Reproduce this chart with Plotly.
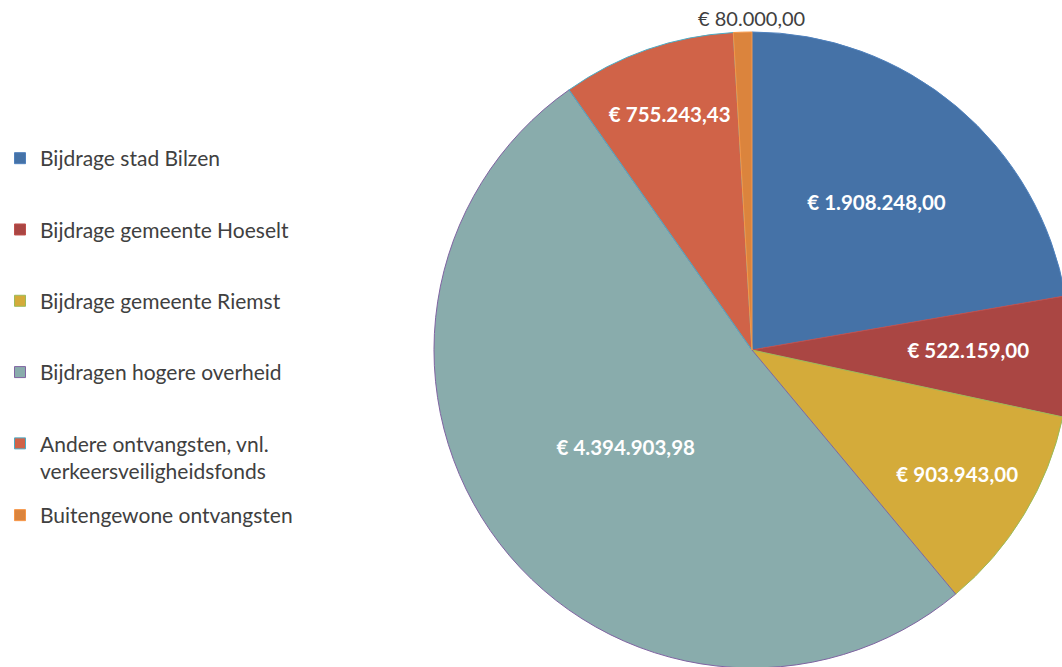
import plotly.graph_objects as go

labels = [
    "Bijdrage stad Bilzen",
    "Bijdrage gemeente Hoeselt",
    "Bijdrage gemeente Riemst",
    "Bijdragen hogere overheid",
    "Andere ontvangsten, vnl.<br>verkeersveiligheidsfonds",
    "Buitengewone ontvangsten",
]
values = [1908248.00, 522159.00, 903943.00, 4394903.98, 755243.43, 80000.00]
label_positions = ["inside", "inside", "inside", "inside", "inside", "none"]
fill_colors = ["#4572A7", "#AA4643", "#D4AB3A", "#89ACAC", "#D06348", "#DB843D"]
line_colors = ["#4F81BD", "#C0504D", "#9BBB59", "#8064A2", "#4BACC6", "#F79646"]


def euro(v):
    s = f"{v:,.2f}".replace(",", "X").replace(".", ",").replace("X", ".")
    return "€ " + s


value_text = [euro(v) for v in values]

FONT = "Lato"
TEXT_GREY = "#404040"
# the original chart's pie runs slightly past the right/bottom edge of the view,
# so the figure is a touch larger than the window and the overflow is hidden
W, H = 1075, 672
PIE_X = [0.4037, 0.9953]
PIE_Y = [0.006, 0.9524]

fig = go.Figure()

fig.add_trace(go.Pie(
    labels=labels,
    values=values,
    text=value_text,
    textinfo="text",
    textposition=label_positions,
    insidetextorientation="horizontal",
    insidetextfont=dict(family=FONT, size=20.5, color="white", weight="bold"),
    marker=dict(colors=fill_colors, line=dict(color=line_colors, width=1)),
    sort=False,
    direction="clockwise",
    rotation=0,
    showlegend=False,
    hoverinfo="skip",
    domain=dict(x=PIE_X, y=PIE_Y),
))

# small top slice: its label sits just above the pie, as in the original
fig.add_annotation(
    x=sum(PIE_X) / 2, y=PIE_Y[1], xref="paper", yref="paper",
    xanchor="center", yanchor="bottom", showarrow=False,
    text=value_text[-1], font=dict(family=FONT, size=20, color=TEXT_GREY),
)

# legend entries (one group per slice so spacing matches the original)
for i, (lab, fc, lc) in enumerate(zip(labels, fill_colors, line_colors)):
    fig.add_trace(go.Scatter(
        x=[None], y=[None], mode="markers", name=lab,
        marker=dict(symbol="square", size=11, color=fc, line=dict(color=lc, width=1)),
        legendgroup=f"g{i}",
        legend="legend2" if i == len(labels) - 1 else "legend",
        hoverinfo="skip",
    ))

legend_font = dict(family=FONT, size=21, color=TEXT_GREY)
fig.update_layout(
    width=W, height=H,
    margin=dict(l=0, r=0, t=0, b=0),
    paper_bgcolor="white", plot_bgcolor="white",
    xaxis=dict(visible=False), yaxis=dict(visible=False),
    legend=dict(x=0, y=0.7946, xanchor="left", yanchor="top",
                font=legend_font, tracegroupgap=41, valign="top",
                bgcolor="rgba(0,0,0,0)", itemwidth=30),
    legend2=dict(x=0, y=0.2634, xanchor="left", yanchor="top",
                 font=legend_font, valign="top",
                 bgcolor="rgba(0,0,0,0)", itemwidth=30),
)

fig.write_html(
    "out.html",
    config={"displayModeBar": False},
    post_script=(
        "document.documentElement.style.overflow='hidden';"
        "document.body.style.margin='0';"
        "document.body.style.overflow='hidden';"
    ),
)
